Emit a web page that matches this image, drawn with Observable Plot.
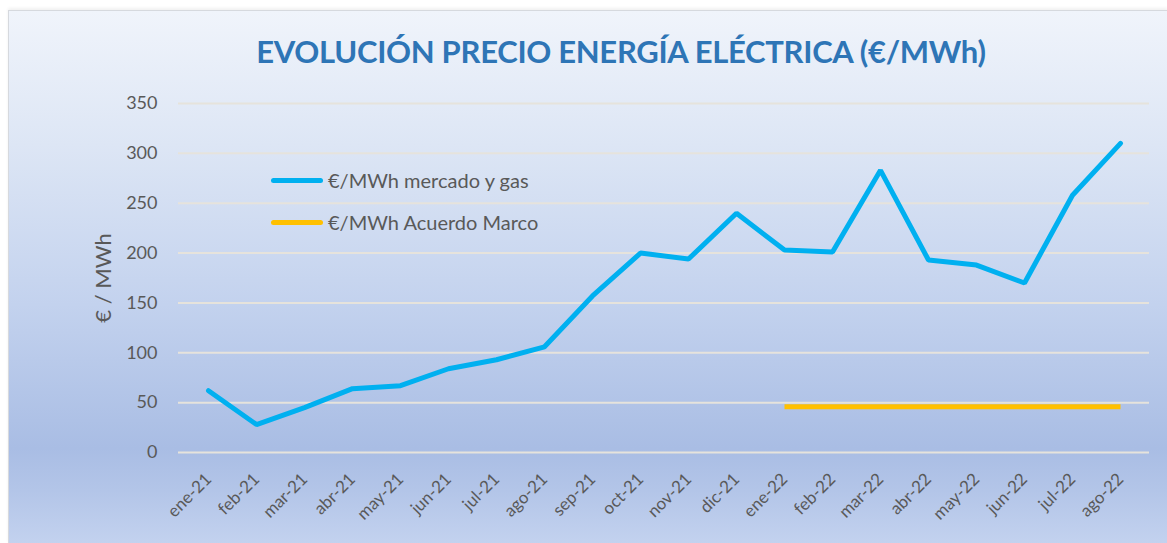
<!DOCTYPE html>
<html>
<head>
<meta charset="utf-8">
<script src="https://cdn.jsdelivr.net/npm/d3@7"></script>
<script src="https://cdn.jsdelivr.net/npm/@observablehq/plot@0.6"></script>
<style>
  html, body { margin: 0; padding: 0; background: #ffffff; width: 1167px; height: 543px; overflow: hidden; }
  #frame {
    position: absolute; left: 8px; top: 10px; width: 1159px; height: 533px;
    background: linear-gradient(to bottom, #f0f4fb 0%, #dde6f5 25%, #c3d2ee 55%, #a9bde4 82%, #b3c5e8 90%, #c3d2ef 100%);
    border-top: 1px solid #d6d9de; border-left: 1px solid #d6d9de;
    box-shadow: 0 -2px 3px rgba(0,0,0,0.06);
    font-family: Lato, "Open Sans", sans-serif;
  }
  #title {
    position: absolute; left: 0; top: 21px; width: 1224px; text-align: center;
    font-family: Lato, sans-serif; font-weight: bold; font-size: 31px; color: #2e75b6;
    letter-spacing: -0.3px;
  }
  #chart { position: absolute; left: 0; top: 59px; }
  #legend { position: absolute; left: 262px; top: 148px; font-size: 20px; color: #595959; }
  .item { display: flex; align-items: center; height: 42px; }
  .swatch { width: 52px; height: 5px; border-radius: 3px; margin-right: 5px; }
</style>
</head>
<body>
<div id="frame">
  <div id="title">EVOLUCIÓN PRECIO ENERGÍA ELÉCTRICA (€/MWh)</div>
  <div id="chart"></div>
  <div id="legend"></div>
</div>
<script>
const months = ["ene-21","feb-21","mar-21","abr-21","may-21","jun-21","jul-21","ago-21","sep-21","oct-21","nov-21","dic-21",
                "ene-22","feb-22","mar-22","abr-22","may-22","jun-22","jul-22","ago-22"];
const mercado = [62, 28, 45, 64, 67, 84, 93, 106, 157, 200, 194, 240, 203, 201, 283, 193, 188, 170, 258, 310];
const acuerdo = [null, null, null, null, null, null, null, null, null, null, null, null, 46, 46, 46, 46, 46, 46, 46, 46];
const yTicks = [0, 50, 100, 150, 200, 250, 300, 350];
const seriesNames = ["€/MWh mercado y gas", "€/MWh Acuerdo Marco"];
const seriesColors = ["#00b0f0", "#ffc000"];

const data1 = months.map((m, i) => ({month: m, value: mercado[i]}));
const data2 = months.map((m, i) => ({month: m, value: acuerdo[i]}));

const chart = Plot.plot({
  width: 1159,
  height: 473,
  marginLeft: 169,
  marginRight: 19,
  marginTop: 33,
  marginBottom: 91,
  style: { background: "transparent", fontFamily: "Lato, 'Open Sans', sans-serif", color: "#595959" },
  x: { type: "point", domain: months, padding: 0.5, label: null },
  y: { domain: [0, 350], label: null },
  marks: [
    Plot.gridY(yTicks, { stroke: "#e6e3dc", strokeOpacity: 1, strokeWidth: 2 }),
    Plot.axisY(yTicks, { tickSize: 0, tickPadding: 21, fontSize: 18, fill: "#595959", label: null }),
    Plot.axisX({ tickSize: 0, tickPadding: 24, tickRotate: -45, fontSize: 17, fill: "#595959", label: null }),
    Plot.line(data2, { x: "month", y: "value", stroke: seriesColors[1], strokeWidth: 5, strokeLinecap: "butt" }),
    Plot.line(data1, { x: "month", y: "value", stroke: seriesColors[0], strokeWidth: 5, strokeLinejoin: "miter", strokeLinecap: "round" }),
    Plot.text(["€ / MWh"], { frameAnchor: "left", dx: -75, rotate: -90, textAnchor: "middle", fontSize: 22, fill: "#595959" })
  ]
});
document.getElementById("chart").appendChild(chart);

const legend = document.getElementById("legend");
seriesNames.forEach((n, i) => {
  const d = document.createElement("div");
  d.className = "item";
  d.innerHTML = `<span class="swatch" style="background:${seriesColors[i]}"></span><span>${n}</span>`;
  legend.appendChild(d);
});
</script>
</body>
</html>
